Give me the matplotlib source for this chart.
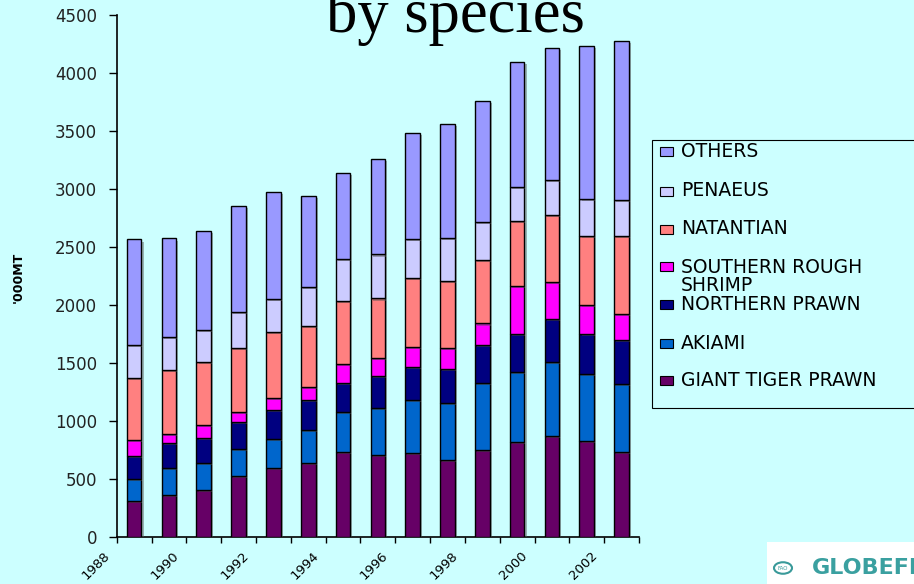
import matplotlib
matplotlib.use("Agg")
import matplotlib.pyplot as plt
import matplotlib.patheffects as pe
from matplotlib.patches import Rectangle, Circle
from matplotlib.transforms import ScaledTranslation
import numpy as np

BG = "#CCFFFF"

years = list(range(1988, 2003))
giant_tiger = [304, 356, 402, 520, 589, 637, 727, 704, 718, 661, 744, 814, 871, 827, 732]
akiami = [195, 238, 230, 233, 256, 285, 346, 403, 458, 495, 584, 604, 639, 574, 585]
northern = [194, 211, 221, 233, 250, 254, 253, 279, 290, 288, 328, 333, 371, 350, 377]
southern = [138, 78, 107, 92, 101, 118, 166, 153, 171, 181, 182, 410, 317, 246, 230]
natantian = [538, 552, 544, 547, 567, 521, 542, 515, 593, 584, 547, 561, 576, 596, 669]
penaeus = [282, 285, 277, 316, 285, 337, 357, 380, 337, 366, 331, 294, 302, 319, 310]
others = [912, 852, 857, 911, 925, 786, 748, 823, 918, 987, 1042, 1082, 1143, 1324, 1376]

series = [
    ("GIANT TIGER PRAWN", giant_tiger, "#660066"),
    ("AKIAMI", akiami, "#0066CC"),
    ("NORTHERN PRAWN", northern, "#000080"),
    ("SOUTHERN ROUGH\nSHRIMP", southern, "#FF00FF"),
    ("NATANTIAN", natantian, "#FF8080"),
    ("PENAEUS", penaeus, "#CCCCFF"),
    ("OTHERS", others, "#9999FF"),
]

W, H = 914, 584
fig = plt.figure(figsize=(W / 100, H / 100), dpi=100, facecolor=BG)
ax = fig.add_axes([116.7 / W, 1 - 536.5 / H, (639 - 116.7) / W, (536.5 - 15) / H])
ax.set_facecolor(BG)

x = np.arange(len(years))
bottom = np.zeros(len(years))
shadow = [pe.SimplePatchShadow(offset=(1.5, -1.5), shadow_rgbFace="#555555", alpha=0.45), pe.Normal()]
for name, vals, col in series:
    bars = ax.bar(x, vals, width=0.42, bottom=bottom, color=col,
                  edgecolor="black", linewidth=1.0, zorder=3)
    for b in bars:
        b.set_path_effects(shadow)
    bottom += np.array(vals)

ax.set_xlim(-0.5, len(years) - 0.5)
ax.set_ylim(0, 4500)
ax.set_yticks(np.arange(0, 4501, 500))
ax.tick_params(axis="y", direction="out", length=6, width=1, pad=8, labelsize=12,
               labelcolor="#222222")

# year labels every second category, tick marks on category boundaries
ax.set_xticks(x[::2], [str(y) for y in years[::2]])
ax.set_xticks(np.arange(-0.5, len(years)), minor=True)
ax.tick_params(axis="x", which="major", length=0, pad=9, labelsize=9.5)
ax.tick_params(axis="x", which="minor", direction="out", length=4, width=1)
offset = ScaledTranslation(-0.31, 0, fig.dpi_scale_trans)
for lab in ax.get_xticklabels():
    lab.set_rotation(45)
    lab.set_rotation_mode("anchor")
    lab.set_ha("right")
    lab.set_va("top")
    lab.set_transform(lab.get_transform() + offset)

for s in ["top", "right"]:
    ax.spines[s].set_visible(False)
for s in ["left", "bottom"]:
    ax.spines[s].set_linewidth(1.2)

fig.text(18 / W, 1 - 277 / H, "'000MT", rotation=90, fontsize=9, fontweight="bold",
         ha="center", va="center")

fig.text(455 / W, 1 - 32 / H, "by species", family="Liberation Serif", fontsize=45,
         ha="center", va="baseline")

# legend panel
fig.patches.append(Rectangle((652 / W, 1 - 408 / H), 300 / W, 268 / H, transform=fig.transFigure,
                             facecolor=BG, edgecolor="black", linewidth=0.8))
legend_y = {"OTHERS": 151.7, "PENAEUS": 191, "NATANTIAN": 229,
            "SOUTHERN ROUGH\nSHRIMP": 266.7, "NORTHERN PRAWN": 304.3,
            "AKIAMI": 343.3, "GIANT TIGER PRAWN": 380.7}
for name, vals, col in series:
    yc = legend_y[name]
    fig.patches.append(Rectangle((660 / W, 1 - (yc + 4.5) / H), 13 / W, 9 / H,
                                 transform=fig.transFigure, facecolor=col,
                                 edgecolor="black", linewidth=0.8))
    if "\n" in name:
        fig.text(681 / W, 1 - (yc - 9) / H, name, fontsize=13.5, ha="left", va="top",
                 linespacing=0.95)
    else:
        fig.text(681 / W, 1 - yc / H, name, fontsize=13.5, ha="left", va="center")

# logo strip
fig.patches.append(Rectangle((767 / W, 0), 150 / W, 42 / H, transform=fig.transFigure,
                             facecolor="white", edgecolor="none"))
fig.patches.append(Circle((783 / W, 1 - 568 / H), 9 / W, transform=fig.transFigure,
                          facecolor="white", edgecolor="#3A9A9A", linewidth=1.5))
fig.text(783 / W, 1 - 568 / H, "FAO", fontsize=4, color="#3A9A9A", ha="center", va="center")
fig.text(812 / W, 1 - 568 / H, "GLOBEFISH", fontsize=16, fontweight="bold", color="#3AA0A0",
         ha="left", va="center", family="DejaVu Sans Condensed")

fig.savefig("out.png", dpi=100, facecolor=BG)
